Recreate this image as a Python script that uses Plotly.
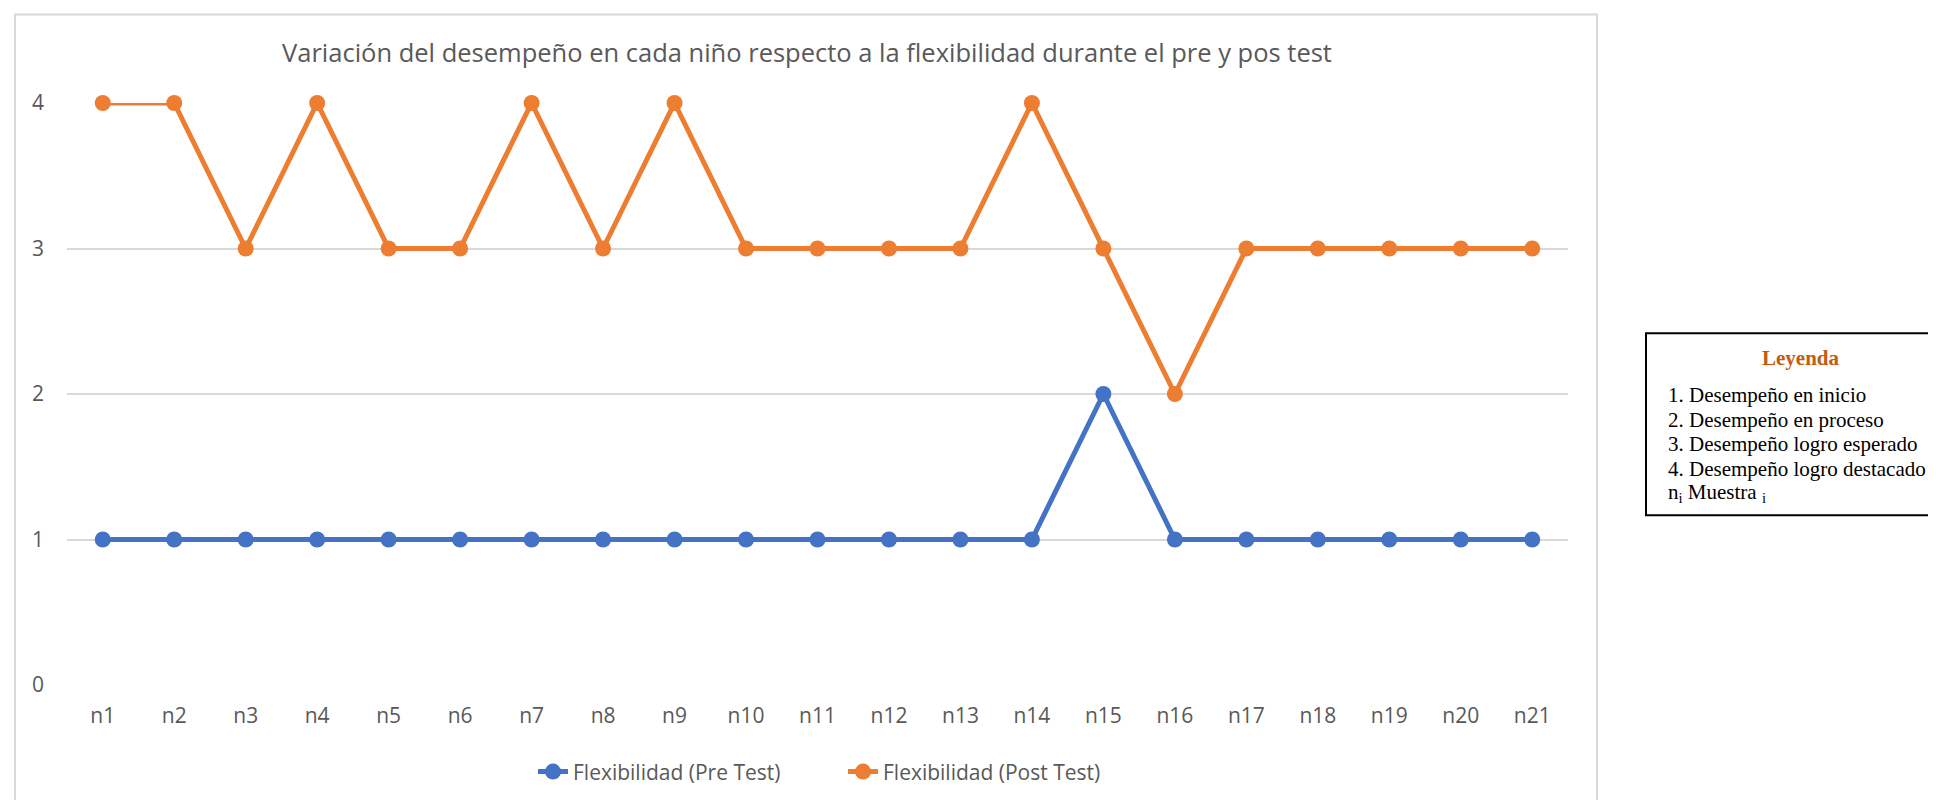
import plotly.graph_objects as go

categories = [f"n{i}" for i in range(1, 22)]
pre_test = [1, 1, 1, 1, 1, 1, 1, 1, 1, 1, 1, 1, 1, 1, 2, 1, 1, 1, 1, 1, 1]
post_test = [4, 4, 3, 4, 3, 3, 4, 3, 4, 3, 3, 3, 3, 4, 3, 2, 3, 3, 3, 3, 3]
y_ticks = [0, 1, 2, 3, 4]
series_names = ["Flexibilidad (Pre Test)", "Flexibilidad (Post Test)"]
title_text = "Variación del desempeño en cada niño respecto a la flexibilidad durante el pre y pos test"
legend_title = "Leyenda"
legend_lines = [
    "1. Desempeño en inicio",
    "2. Desempeño en proceso",
    "3. Desempeño logro esperado",
    "4. Desempeño logro destacado",
    "n<sub>i</sub> Muestra <sub>i</sub>",
]

W, H = 1936, 800
OFF = 8  # page body margin offset
L, R, T, B = 67 - OFF, 1568 - OFF, 102.5 - OFF, 685 - OFF

def px_x(px):
    return (px - OFF - L) / (R - L)

def px_y(py):
    return (B - (py - OFF)) / (B - T)

BLUE = "#4472C4"
ORANGE = "#ED7D31"
GREY = "#595959"
FONT = "Open Sans"

fig = go.Figure()
fig.add_trace(go.Scatter(x=categories, y=pre_test, name=series_names[0], mode="lines+markers",
                         line=dict(color=BLUE, width=5), marker=dict(size=16, color=BLUE),
                         cliponaxis=False))
fig.add_trace(go.Scatter(x=categories, y=post_test, name=series_names[1], mode="lines+markers",
                         line=dict(color=ORANGE, width=5), marker=dict(size=16, color=ORANGE),
                         cliponaxis=False))

shapes = [
    dict(type="rect", xref="paper", yref="paper", x0=px_x(15), x1=px_x(1597), y0=px_y(840), y1=px_y(14),
         line=dict(color="#D9D9D9", width=2), fillcolor="rgba(0,0,0,0)", layer="below"),
    dict(type="rect", xref="paper", yref="paper", x0=px_x(1646), x1=px_x(1975), y0=px_y(515), y1=px_y(333),
         line=dict(color="black", width=2), fillcolor="white"),
]

annotations = [
    dict(text=f"<b>{legend_title}</b>", xref="paper", yref="paper", x=px_x(1801), y=px_y(358),
         xanchor="center", yanchor="middle", showarrow=False,
         font=dict(family="Liberation Serif", size=21, color="#C55A11")),
]
for i, line in enumerate(legend_lines):
    annotations.append(dict(text=line, xref="paper", yref="paper", x=px_x(1666), y=px_y(395 + 24.5 * i),
                            xanchor="left", yanchor="middle", showarrow=False,
                            font=dict(family="Liberation Serif", size=21, color="black")))

fig.update_layout(
    width=W, height=H,
    margin=dict(l=L, r=W - R, t=T, b=H - B, pad=0, autoexpand=False),
    paper_bgcolor="white", plot_bgcolor="white",
    title=dict(text=title_text, xref="container", yref="container", x=(807 - OFF) / W, y=1 - (53 - OFF) / H,
               xanchor="center", yanchor="middle", font=dict(family=FONT, size=25.5, color=GREY)),
    xaxis=dict(type="category", range=[-0.5, 20.5], showgrid=False, zeroline=False, showline=False,
               ticks="", tickfont=dict(family=FONT, size=21, color=GREY), ticklabelstandoff=16,
               automargin=False),
    yaxis=dict(range=[0, 4], tickvals=y_ticks, showgrid=True, gridcolor="#D9D9D9", gridwidth=1.5,
               zeroline=False, showline=False, ticks="", tickfont=dict(family=FONT, size=21, color=GREY),
               ticklabelstandoff=22, automargin=False),
    legend=dict(orientation="h", x=px_x(533), y=px_y(772), xanchor="left", yanchor="middle",
                entrywidth=265, font=dict(family=FONT, size=21, color=GREY), bgcolor="rgba(0,0,0,0)"),
    shapes=shapes,
    annotations=annotations,
)

fig.write_html("out.html")
